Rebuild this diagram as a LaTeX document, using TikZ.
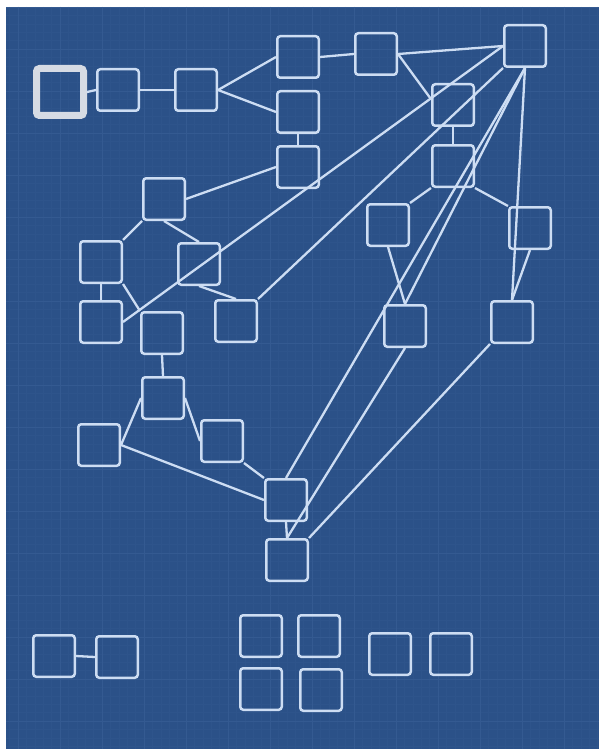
\documentclass[tikz,border=0pt]{standalone}
\usetikzlibrary{calc}
\definecolor{bg}{RGB}{43,81,136}
\definecolor{gridminor}{RGB}{46,84,139}
\definecolor{gridmajor}{RGB}{52,90,145}
\definecolor{boxc}{RGB}{205,221,243}
\definecolor{bigc}{RGB}{214,219,228}
\tikzset{
  bx/.style={draw=boxc, line width=2.5pt, rounded corners=3pt, minimum width=41.5pt, minimum height=41.5pt, inner sep=0pt},
  bigbx/.style={draw=bigc, line width=7pt, rounded corners=3pt, minimum width=47pt, minimum height=47pt, inner sep=0pt},
  ln/.style={draw=boxc, line width=2.3pt}
}
\begin{document}
\begin{tikzpicture}[x=1pt,y=-1pt]
\useasboundingbox (0,0) rectangle (599,749);
\fill[white] (0,0) rectangle (599,749);
\fill[bg] (6,7) rectangle (599,749);
\begin{scope}
\clip (6,7) rectangle (599,749);
\foreach \i in {0,...,75} {
  \draw[gridminor, line width=0.5pt] ({1.2+8.4*\i},7) -- ({1.2+8.4*\i},749);
}
\foreach \i in {0,...,90} {
  \draw[gridminor, line width=0.5pt] (6,{7+8.4*\i}) -- (599,{7+8.4*\i});
}
\foreach \i in {0,...,15} {
  \draw[gridmajor, line width=0.8pt] ({18+42*\i},7) -- ({18+42*\i},749);
}
\foreach \i in {0,...,18} {
  \draw[gridmajor, line width=0.8pt] (6,{7+42*\i}) -- (599,{7+42*\i});
}
\end{scope}

% nodes
\node[bigbx] (A) at (60,92) {};
\node[bx] (B) at (118,90) {};
\node[bx] (C) at (196,90) {};
\node[bx] (D) at (298,57) {};
\node[bx] (E) at (376,54) {};
\node[bx] (F) at (525,46) {};
\node[bx] (G) at (298,112) {};
\node[bx] (H) at (453,105) {};
\node[bx] (I) at (298,167) {};
\node[bx] (J) at (453,166) {};
\node[bx] (K) at (164,199) {};
\node[bx] (L) at (388,225) {};
\node[bx] (M) at (530,228) {};
\node[bx] (N) at (101,262) {};
\node[bx] (O) at (199,264) {};
\node[bx] (P) at (101,322) {};
\node[bx] (Q) at (162,333) {};
\node[bx] (R) at (236,321) {};
\node[bx] (S) at (405,326) {};
\node[bx] (T) at (512,322) {};
\node[bx] (U) at (163,398) {};
\node[bx] (V) at (99,445) {};
\node[bx] (W) at (222,441) {};
\node[bx] (X) at (286,500) {};
\node[bx] (Y) at (287,560) {};
% bottom groups
\node[bx] (Z1) at (54,656) {};
\node[bx] (Z2) at (117,657) {};
\node[bx] (Z3) at (261,636) {};
\node[bx] (Z4) at (319,636) {};
\node[bx] (Z5) at (261,689) {};
\node[bx] (Z6) at (321,690) {};
\node[bx] (Z7) at (390,654) {};
\node[bx] (Z8) at (451,654) {};

% connectors
\draw[ln] (A.east) -- (B.west);
\draw[ln] (B.east) -- (C.west);
\draw[ln] (C.east) -- (D.west);
\draw[ln] (C.east) -- (G.west);
\draw[ln] (D.east) -- (E.west);
\draw[ln] (E.east) -- (F.west);
\draw[ln] (E.east) -- (H.165);
\draw[ln] (G.south) -- (I.north);
\draw[ln] (H.south) -- (J.north);
\draw[ln] (I.west) -- (K.east);
\draw[ln] (K.south west) -- (N.north east);
\draw[ln] (K.south) -- (O.north);
\draw[ln] (N.south) -- (P.north);
\draw[ln] (N.south east) -- (Q.north west);
\draw[ln] (O.south) -- (R.north);
\draw[ln] (P.east) -- (F.west);
\draw[ln] (F.south west) -- (R.north east);
\draw[ln] (F.south) -- (X.north);
\draw[ln] (F.south) -- (S.north);
\draw[ln] (F.south) -- (T.north);
\draw[ln] (L.south) -- (S.north);
\draw[ln] (J.south west) -- (L.north east);
\draw[ln] (J.south east) -- (M.north west);
\draw[ln] (M.south) -- (T.north);
\draw[ln] (S.south) -- (Y.north);
\draw[ln] (T.south west) -- (Y.north east);
\draw[ln] (X.south) -- (Y.north);
\draw[ln] (Q.south) -- (U.north);
\draw[ln] (U.west) -- (V.east);
\draw[ln] (U.east) -- (W.west);
\draw[ln] (V.east) -- (X.west);
\draw[ln] (W.south east) -- (X.north west);
\draw[ln] (Z1.east) -- (Z2.west);
\end{tikzpicture}
\end{document}
